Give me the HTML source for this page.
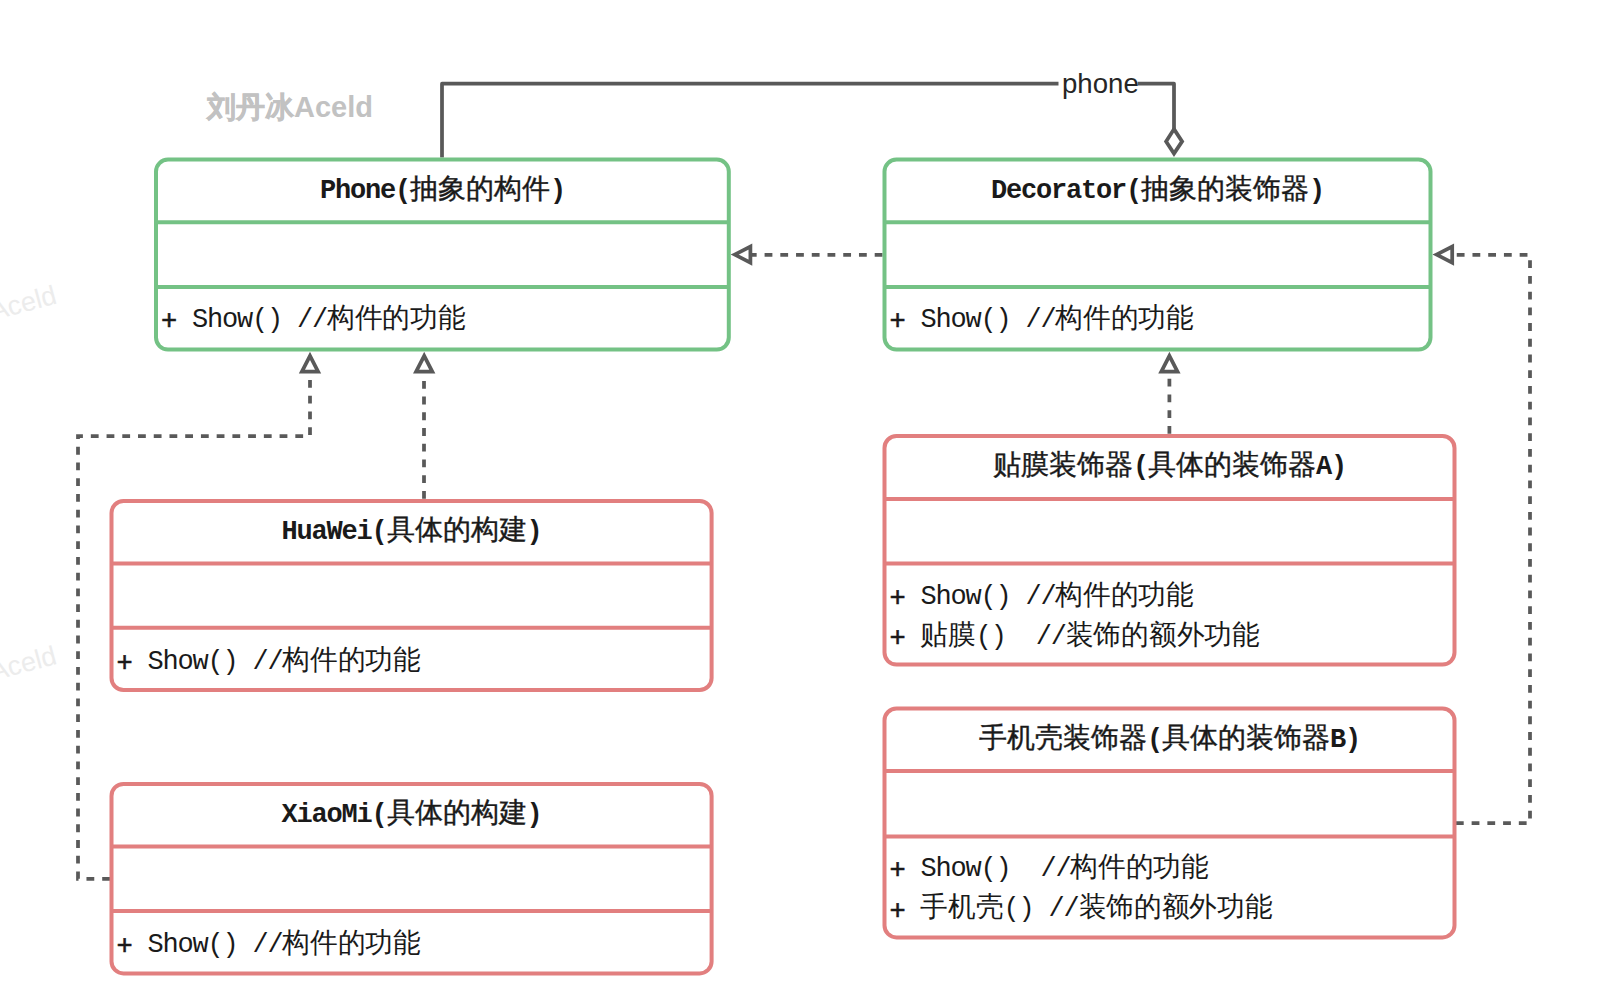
<!DOCTYPE html>
<html><head><meta charset="utf-8">
<style>
html,body{margin:0;padding:0;background:#fff;width:1613px;height:998px;overflow:hidden}
svg{position:absolute;left:0;top:0}
text{font-family:"Liberation Mono",monospace}
.l{font-size:27.0px;letter-spacing:-1.200px}
.p{stroke:#1a1a1a;stroke-width:0.6px}
.ct{font-size:28.0px;letter-spacing:0;font-weight:500;stroke:#1a1a1a;stroke-width:0.4px}
.cm{font-size:27.7px;letter-spacing:0;font-weight:400}
text.wm{font-family:"Liberation Sans",sans-serif}
</style></head><body>
<svg width="1613" height="998" viewBox="0 0 1613 998">
<text class="wm" x="207" y="116.8" font-weight="bold" font-size="29" fill="#c2c2c2"><tspan stroke="#c2c2c2" stroke-width="0.6">刘丹冰</tspan>Aceld</text>
<text class="wm" transform="translate(-7.3,320.6) rotate(-15)" font-size="27" fill="#ececec">Aceld</text>
<text class="wm" transform="translate(-7.3,681.0) rotate(-15)" font-size="27" fill="#ececec">Aceld</text>
<path d="M111.4,878.8 L78,878.8 L78,436 L310,436 L310,371.65" fill="none" stroke="#595959" stroke-width="3.75" stroke-dasharray="7.8 7.93" stroke-dashoffset="14.330"/>
<path d="M310,355.9 L318.1,371.65 L301.9,371.65 Z" fill="#fff" stroke="#595959" stroke-width="3.75" stroke-linejoin="miter"/>
<path d="M424,501 L424,371.65" fill="none" stroke="#595959" stroke-width="3.75" stroke-dasharray="7.8 7.93" stroke-dashoffset="13.530"/>
<path d="M424.2,355.9 L432.3,371.65 L416.09999999999997,371.65 Z" fill="#fff" stroke="#595959" stroke-width="3.75" stroke-linejoin="miter"/>
<path d="M1169.4,436 L1169.4,371.65" fill="none" stroke="#595959" stroke-width="3.75" stroke-dasharray="7.8 7.93" stroke-dashoffset="13.430"/>
<path d="M1169.4,355.9 L1177.5,371.65 L1161.3000000000002,371.65 Z" fill="#fff" stroke="#595959" stroke-width="3.75" stroke-linejoin="miter"/>
<path d="M884.5,254.8 L750.4,254.8" fill="none" stroke="#595959" stroke-width="3.75" stroke-dasharray="7.8 7.93" stroke-dashoffset="13.730"/>
<path d="M734.7,254.6 L750.4,246.5 L750.4,262.7 Z" fill="#fff" stroke="#595959" stroke-width="3.75" stroke-linejoin="miter"/>
<path d="M1454.9,823.1 L1530,823.1 L1530,254.8 L1452.2,254.8" fill="none" stroke="#595959" stroke-width="3.75" stroke-dasharray="7.8 7.93" stroke-dashoffset="14.730"/>
<path d="M1436.5,254.6 L1452.2,246.5 L1452.2,262.7 Z" fill="#fff" stroke="#595959" stroke-width="3.75" stroke-linejoin="miter"/>
<path d="M442,157.6 L442,83.7 L1174,83.7 L1174,129" fill="none" stroke="#595959" stroke-width="3.75" stroke-linejoin="round"/>
<path d="M1174,129.1 L1182.1,141.4 L1174,153.6 L1166.1,141.4 Z" fill="#fff" stroke="#595959" stroke-width="3.75" stroke-linejoin="miter"/>
<rect x="1058.5" y="70" width="79.2" height="28" fill="#fff"/>
<text class="wm" x="1062" y="92.6" font-size="27.6" fill="#262626">phone</text>
<rect x="156" y="159.6" width="572.8" height="190.00000000000003" rx="12" ry="12" fill="#fff" stroke="#74c285" stroke-width="4.0"/>
<line x1="156" y1="222.3" x2="728.8" y2="222.3" stroke="#74c285" stroke-width="4.0"/>
<line x1="156" y1="287" x2="728.8" y2="287" stroke="#74c285" stroke-width="4.0"/>
<text fill="#1a1a1a" font-weight="bold" xml:space="preserve"><tspan x="319.90" y="197.50" class="l">Phone(</tspan><tspan x="409.90" y="197.50" class="ct" textLength="140.00" lengthAdjust="spacingAndGlyphs">抽象的构件</tspan><tspan x="549.90" y="197.50" class="l">)</tspan></text>
<text fill="#1a1a1a" xml:space="preserve"><tspan x="160.90" y="329.40" class="l p">+</tspan><tspan x="176.90" y="327.10" class="l"> Show() //</tspan><tspan x="326.90" y="327.10" class="cm" textLength="138.50" lengthAdjust="spacingAndGlyphs">构件的功能</tspan></text>
<rect x="884.5" y="159.6" width="546.0" height="190.00000000000003" rx="12" ry="12" fill="#fff" stroke="#74c285" stroke-width="4.0"/>
<line x1="884.5" y1="222.3" x2="1430.5" y2="222.3" stroke="#74c285" stroke-width="4.0"/>
<line x1="884.5" y1="287" x2="1430.5" y2="287" stroke="#74c285" stroke-width="4.0"/>
<text fill="#1a1a1a" font-weight="bold" xml:space="preserve"><tspan x="991.00" y="197.50" class="l">Decorator(</tspan><tspan x="1141.00" y="197.50" class="ct" textLength="168.00" lengthAdjust="spacingAndGlyphs">抽象的装饰器</tspan><tspan x="1309.00" y="197.50" class="l">)</tspan></text>
<text fill="#1a1a1a" xml:space="preserve"><tspan x="889.40" y="329.40" class="l p">+</tspan><tspan x="905.40" y="327.10" class="l"> Show() //</tspan><tspan x="1055.40" y="327.10" class="cm" textLength="138.50" lengthAdjust="spacingAndGlyphs">构件的功能</tspan></text>
<rect x="111.5" y="501" width="600.1" height="189" rx="12" ry="12" fill="#fff" stroke="#e27f7f" stroke-width="4.0"/>
<line x1="111.5" y1="563.5" x2="711.6" y2="563.5" stroke="#e27f7f" stroke-width="4.0"/>
<line x1="111.5" y1="627.8" x2="711.6" y2="627.8" stroke="#e27f7f" stroke-width="4.0"/>
<text fill="#1a1a1a" font-weight="bold" xml:space="preserve"><tspan x="281.55" y="539.20" class="l">HuaWei(</tspan><tspan x="386.55" y="539.20" class="ct" textLength="140.00" lengthAdjust="spacingAndGlyphs">具体的构建</tspan><tspan x="526.55" y="539.20" class="l">)</tspan></text>
<text fill="#1a1a1a" xml:space="preserve"><tspan x="116.40" y="670.90" class="l p">+</tspan><tspan x="132.40" y="668.60" class="l"> Show() //</tspan><tspan x="282.40" y="668.60" class="cm" textLength="138.50" lengthAdjust="spacingAndGlyphs">构件的功能</tspan></text>
<rect x="111.5" y="783.9" width="600.1" height="189.5" rx="12" ry="12" fill="#fff" stroke="#e27f7f" stroke-width="4.0"/>
<line x1="111.5" y1="846.4" x2="711.6" y2="846.4" stroke="#e27f7f" stroke-width="4.0"/>
<line x1="111.5" y1="911" x2="711.6" y2="911" stroke="#e27f7f" stroke-width="4.0"/>
<text fill="#1a1a1a" font-weight="bold" xml:space="preserve"><tspan x="281.55" y="822.40" class="l">XiaoMi(</tspan><tspan x="386.55" y="822.40" class="ct" textLength="140.00" lengthAdjust="spacingAndGlyphs">具体的构建</tspan><tspan x="526.55" y="822.40" class="l">)</tspan></text>
<text fill="#1a1a1a" xml:space="preserve"><tspan x="116.40" y="954.30" class="l p">+</tspan><tspan x="132.40" y="952.00" class="l"> Show() //</tspan><tspan x="282.40" y="952.00" class="cm" textLength="138.50" lengthAdjust="spacingAndGlyphs">构件的功能</tspan></text>
<rect x="884.5" y="436" width="570.0" height="228.60000000000002" rx="12" ry="12" fill="#fff" stroke="#e27f7f" stroke-width="4.0"/>
<line x1="884.5" y1="499" x2="1454.5" y2="499" stroke="#e27f7f" stroke-width="4.0"/>
<line x1="884.5" y1="563.6" x2="1454.5" y2="563.6" stroke="#e27f7f" stroke-width="4.0"/>
<text fill="#1a1a1a" font-weight="bold" xml:space="preserve"><tspan x="993.00" y="473.50" class="ct" textLength="140.00" lengthAdjust="spacingAndGlyphs">贴膜装饰器</tspan><tspan x="1133.00" y="473.50" class="l">(</tspan><tspan x="1148.00" y="473.50" class="ct" textLength="168.00" lengthAdjust="spacingAndGlyphs">具体的装饰器</tspan><tspan x="1316.00" y="473.50" class="l">A)</tspan></text>
<text fill="#1a1a1a" xml:space="preserve"><tspan x="889.40" y="605.90" class="l p">+</tspan><tspan x="905.40" y="603.60" class="l"> Show() //</tspan><tspan x="1055.40" y="603.60" class="cm" textLength="138.50" lengthAdjust="spacingAndGlyphs">构件的功能</tspan></text>
<text fill="#1a1a1a" xml:space="preserve"><tspan x="889.40" y="645.90" class="l p">+</tspan><tspan x="905.40" y="643.60" class="l"> </tspan><tspan x="920.40" y="643.60" class="cm" textLength="55.40" lengthAdjust="spacingAndGlyphs">贴膜</tspan><tspan x="975.80" y="643.60" class="l">()  //</tspan><tspan x="1065.80" y="643.60" class="cm" textLength="193.90" lengthAdjust="spacingAndGlyphs">装饰的额外功能</tspan></text>
<rect x="884.5" y="708.5" width="570.0" height="228.89999999999998" rx="12" ry="12" fill="#fff" stroke="#e27f7f" stroke-width="4.0"/>
<line x1="884.5" y1="771" x2="1454.5" y2="771" stroke="#e27f7f" stroke-width="4.0"/>
<line x1="884.5" y1="836.4" x2="1454.5" y2="836.4" stroke="#e27f7f" stroke-width="4.0"/>
<text fill="#1a1a1a" font-weight="bold" xml:space="preserve"><tspan x="979.00" y="746.50" class="ct" textLength="168.00" lengthAdjust="spacingAndGlyphs">手机壳装饰器</tspan><tspan x="1147.00" y="746.50" class="l">(</tspan><tspan x="1162.00" y="746.50" class="ct" textLength="168.00" lengthAdjust="spacingAndGlyphs">具体的装饰器</tspan><tspan x="1330.00" y="746.50" class="l">B)</tspan></text>
<text fill="#1a1a1a" xml:space="preserve"><tspan x="889.40" y="877.90" class="l p">+</tspan><tspan x="905.40" y="875.60" class="l"> Show()  //</tspan><tspan x="1070.40" y="875.60" class="cm" textLength="138.50" lengthAdjust="spacingAndGlyphs">构件的功能</tspan></text>
<text fill="#1a1a1a" xml:space="preserve"><tspan x="889.40" y="918.70" class="l p">+</tspan><tspan x="905.40" y="916.40" class="l"> </tspan><tspan x="920.40" y="916.40" class="cm" textLength="83.10" lengthAdjust="spacingAndGlyphs">手机壳</tspan><tspan x="1003.50" y="916.40" class="l">() //</tspan><tspan x="1078.50" y="916.40" class="cm" textLength="193.90" lengthAdjust="spacingAndGlyphs">装饰的额外功能</tspan></text>
</svg>
</body></html>
